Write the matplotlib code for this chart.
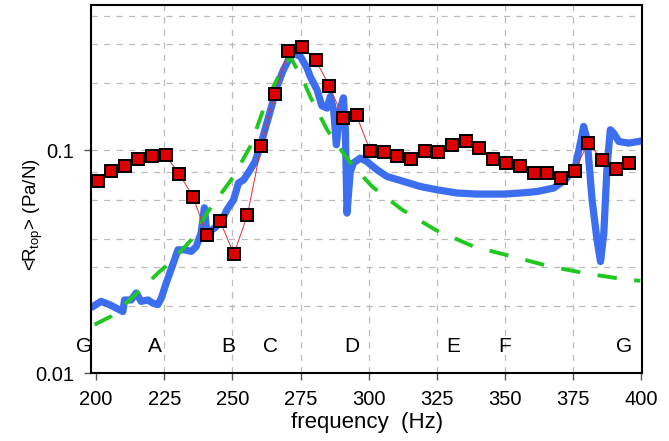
import matplotlib
matplotlib.use("Agg")
import matplotlib.pyplot as plt
from matplotlib.ticker import NullLocator

plt.rcParams["font.family"] = "Liberation Sans"
plt.rcParams["mathtext.fontset"] = "custom"
plt.rcParams["mathtext.rm"] = "Liberation Sans"
plt.rcParams["mathtext.it"] = "Liberation Sans:italic"

# measured points (red squares)
freq_meas = [200.5, 205.5, 210.5, 215.5, 220.5, 225.5, 230.5, 235.5, 240.5, 245.5,
             250.5, 255.5, 260.5, 265.5, 270.5, 275.5, 280.5, 285.5, 290.5, 295.5,
             300.5, 305.5, 310.5, 315.5, 320.5, 325.5, 330.5, 335.5, 340.5, 345.5,
             350.5, 355.5, 360.5, 365.5, 370.5, 375.5, 380.5, 385.5, 390.5, 395.5]
r_meas = [0.0731, 0.0811, 0.0854, 0.0915, 0.0940, 0.0950, 0.0783, 0.0621, 0.0418, 0.0480,
          0.0342, 0.0514, 0.1042, 0.1792, 0.2805, 0.2913, 0.2547, 0.1953, 0.1406, 0.1436,
          0.0997, 0.0980, 0.0940, 0.0920, 0.0997, 0.0987, 0.1053, 0.1098, 0.1031, 0.0920,
          0.0883, 0.0856, 0.0791, 0.0791, 0.0756, 0.0811, 0.1086, 0.0908, 0.0825, 0.0883]

# simulated curve (blue)
freq_sim = [199.1, 201.8, 204.9, 207.3, 209.8, 210.4, 212.8, 214.7, 216.5, 219.0,
            220.8, 222.6, 223.9, 225.7, 228.1, 230.0, 232.4, 234.9, 236.7, 238.5,
            239.7, 240.6, 243.4, 245.9, 248.0, 250.4, 252.2, 254.1, 256.5, 258.3,
            260.2, 262.6, 264.5, 266.3, 268.7, 270.6, 272.4, 274.9, 277.3, 278.5,
            281.0, 282.8, 284.7, 285.9, 287.1, 288.1, 289.5, 290.7, 291.4, 292.0,
            293.2, 294.4, 296.9, 299.3, 303.0, 306.7, 312.8, 318.9, 325.0, 332.4,
            339.7, 349.5, 355.6, 361.7, 367.8, 372.1, 375.8, 377.6, 378.8, 380.1,
            381.9, 383.7, 385.0, 386.2, 387.4, 388.6, 389.8, 391.7, 395.3, 399.0, 400.7]
r_sim = [0.0200, 0.0210, 0.0203, 0.0196, 0.0189, 0.0213, 0.0213, 0.0229, 0.0210, 0.0213,
         0.0206, 0.0203, 0.0217, 0.0254, 0.0307, 0.0358, 0.0358, 0.0352, 0.0370, 0.0426,
         0.0553, 0.0423, 0.0448, 0.0480, 0.0542, 0.0600, 0.0714, 0.0738, 0.0819, 0.0892,
         0.1042, 0.1328, 0.1604, 0.1939, 0.2304, 0.2556, 0.2740, 0.2644, 0.2352, 0.2150,
         0.1874, 0.1588, 0.1550, 0.1748, 0.1523, 0.1061, 0.1523, 0.1724, 0.1239, 0.0523,
         0.0802, 0.0880, 0.0924, 0.0892, 0.0819, 0.0764, 0.0726, 0.0689, 0.0666, 0.0644,
         0.0637, 0.0637, 0.0644, 0.0654, 0.0678, 0.0738, 0.0848, 0.1079, 0.1282, 0.1117,
         0.0600, 0.0397, 0.0317, 0.0425, 0.0848, 0.1239, 0.1197, 0.1098, 0.1079, 0.1098, 0.1109]

# model curve (green dashed)
freq_mod = [199.4, 205.5, 211.6, 216.5, 222.6, 227.5, 234.9, 240.6, 250.4, 256.5,
            262.6, 267.5, 271.2, 276.1, 278.5, 282.2, 284.7, 290.2, 293.8, 301.2,
            312.2, 324.4, 338.5, 352.6, 366.6, 380.7, 395.3, 399.6]
r_mod = [0.0165, 0.0180, 0.0210, 0.0237, 0.0281, 0.0317, 0.0397, 0.0523, 0.0764, 0.1042,
         0.1690, 0.2227, 0.2636, 0.2042, 0.1748, 0.1421, 0.1239, 0.0990, 0.0863, 0.0689,
         0.0542, 0.0440, 0.0370, 0.0334, 0.0301, 0.0279, 0.0262, 0.0260]

# mode letters
letters = ["G", "A", "B", "C", "D", "E", "F", "G"]
freq_letters = [195.6, 221.4, 248.6, 263.9, 293.8, 330.9, 350.0, 393.6]

x_ticks = [200, 225, 250, 275, 300, 325, 350, 375, 400]
x_grid = [225, 250, 275, 300, 325, 350, 375]
y_grid = [0.02, 0.03, 0.04, 0.06, 0.08, 0.1, 0.2, 0.3, 0.4]

fig = plt.figure(figsize=(6.69, 4.41), dpi=100)
ax = fig.add_axes([0.136, 0.154, 0.824, 0.835])
ax.set_yscale("log")

# grid
for xg in x_grid:
    ax.axvline(xg, color="#bbbbbb", lw=0.9, ls=(0, (5, 5)), zorder=0)
for yg in y_grid:
    ax.axhline(yg, color="#bbbbbb", lw=0.9, ls=(0, (5, 5)), zorder=0)

ax.plot(freq_sim, r_sim, color="#3c6ef0", lw=5.2, zorder=2)
ax.plot(freq_mod, r_mod, color="#1ec81e", lw=2.8, ls=(0, (5, 4.5)), zorder=3)
ax.plot(freq_meas, r_meas, color="#e03030", lw=0.7, zorder=4)
ax.plot(freq_meas, r_meas, ls="none", marker="s", ms=8, mfc="#dd0000",
        mec="black", mew=1.4, zorder=5)

for let, fl in zip(letters, freq_letters):
    ax.text(fl, 0.0131, let, fontsize=15, ha="center", va="center", clip_on=False)

ax.set_xlim(198.1, 400.3)
ax.set_ylim(0.01, 0.451)
ax.set_xticks(x_ticks)
ax.set_yticks([0.01, 0.1])
ax.set_yticklabels(["0.01", "0.1"])
ax.yaxis.set_minor_locator(NullLocator())
ax.tick_params(labelsize=14.5, length=5, width=1, color="#555555", pad=7)

ax.set_xlabel("frequency  (Hz)", fontsize=16, labelpad=2)
ax.set_ylabel(r"<R$_{\mathrm{top}}$> (Pa/N)", fontsize=13.5)
ax.yaxis.set_label_coords(-0.084, 0.43)

for sp in ax.spines.values():
    sp.set_linewidth(1.5)
    sp.set_color("black")

plt.savefig("out.png", dpi=100)
